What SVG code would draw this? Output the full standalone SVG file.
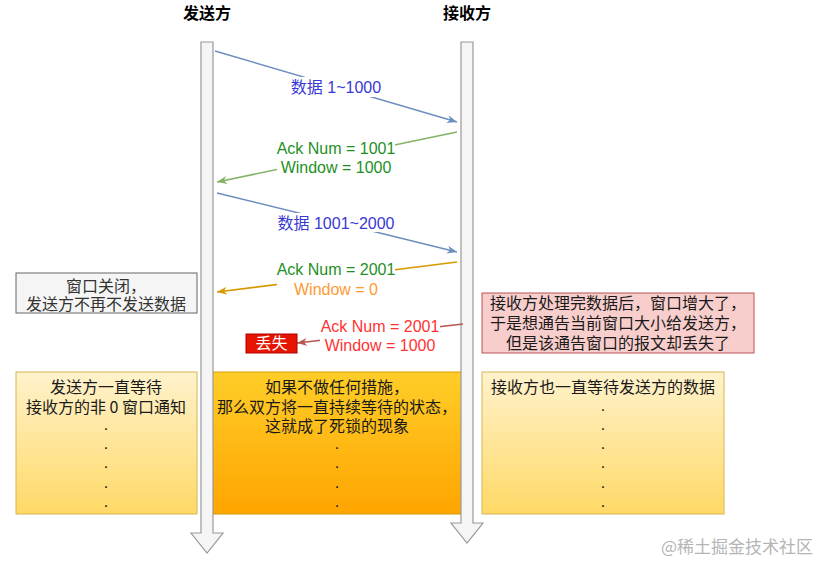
<svg xmlns="http://www.w3.org/2000/svg" width="820" height="562" viewBox="0 0 820 562">
<style>
.t{font-family:"Liberation Sans","Noto Sans CJK SC",sans-serif;font-size:16px;text-anchor:middle}
.c{font-family:"Noto Sans CJK SC","Liberation Sans",sans-serif;font-size:16px;text-anchor:middle;fill:#1a1a1a}
.d{font-family:"Liberation Sans",sans-serif;font-size:16px;text-anchor:middle;fill:#1a1a1a}
.h{font-weight:bold;fill:#000}
.life{fill:#f5f5f5;stroke:#999;stroke-width:1.2}
.ln{fill:none;stroke-width:1.5}
.bg{fill:#fff}
.blue{fill:#3838d4}
.green{fill:#1f8f1f}
</style>
<defs>
<linearGradient id="gy" x1="0" y1="0" x2="0" y2="1"><stop offset="0" stop-color="#fff2cc"/><stop offset="1" stop-color="#ffd966"/></linearGradient>
<linearGradient id="go" x1="0" y1="0" x2="0" y2="1"><stop offset="0" stop-color="#ffcd28"/><stop offset="1" stop-color="#ffa500"/></linearGradient>
<marker id="mb" markerUnits="userSpaceOnUse" markerWidth="12" markerHeight="10" refX="10" refY="4" orient="auto"><path d="M0,0 L10,4 L0,8 L3,4 z" fill="#6c8ebf"/></marker>
<marker id="mg" markerUnits="userSpaceOnUse" markerWidth="12" markerHeight="10" refX="10" refY="4" orient="auto"><path d="M0,0 L10,4 L0,8 L3,4 z" fill="#82b366"/></marker>
<marker id="mo" markerUnits="userSpaceOnUse" markerWidth="12" markerHeight="10" refX="10" refY="4" orient="auto"><path d="M0,0 L10,4 L0,8 L3,4 z" fill="#d79b00"/></marker>
<marker id="mr" markerUnits="userSpaceOnUse" markerWidth="12" markerHeight="10" refX="10" refY="4" orient="auto"><path d="M0,0 L10,4 L0,8 L3,4 z" fill="#b85450"/></marker>
</defs>
<rect width="820" height="562" fill="#fff"/>

<g id="box-sender-wait">
<rect x="16" y="372" width="181" height="142" fill="url(#gy)" stroke="#d6b656"/>
<text class="c" x="106" y="393">发送方一直等待<tspan x="106" dy="20">接收方的非 0 窗口通知</tspan></text>
<text class="d" x="106" y="430">.<tspan x="106" dy="19">.</tspan><tspan x="106" dy="19">.</tspan><tspan x="106" dy="20">.</tspan><tspan x="106" dy="19">.</tspan></text>
</g>
<g id="box-deadlock">
<rect x="212" y="372" width="251" height="142" fill="url(#go)" stroke="#d79b00"/>
<text class="c" x="337" y="393">如果不做任何措施，<tspan x="337" dy="20">那么双方将一直持续等待的状态，</tspan><tspan x="337" dy="19">这就成了死锁的现象</tspan></text>
<text class="d" x="337" y="449">.<tspan x="337" dy="19">.</tspan><tspan x="337" dy="20">.</tspan><tspan x="337" dy="19">.</tspan></text>
</g>
<g id="box-receiver-wait">
<rect x="482" y="372" width="242" height="142" fill="url(#gy)" stroke="#d6b656"/>
<text class="c" x="603" y="393">接收方也一直等待发送方的数据</text>
<text class="d" x="603" y="411">.<tspan x="603" dy="19">.</tspan><tspan x="603" dy="19">.</tspan><tspan x="603" dy="19">.</tspan><tspan x="603" dy="20">.</tspan><tspan x="603" dy="19">.</tspan></text>
</g>

<g id="sender">
<text class="c h" x="207" y="19">发送方</text>
<path class="life" d="M201,42 H213 V533 H223 L207,553 L191,533 H201 Z"/>
</g>
<g id="receiver">
<text class="c h" x="467" y="19">接收方</text>
<path class="life" d="M461,42 H473 V523 H483 L467,543 L451,523 H461 Z"/>
</g>

<g id="connectors">
<line class="ln" x1="215" y1="51" x2="457" y2="122" stroke="#6c8ebf" marker-end="url(#mb)"/>
<rect class="bg" x="289" y="77" width="94" height="20"/>
<text class="t blue" x="336" y="93">数据 1~1000</text>

<line class="ln" x1="457" y1="132" x2="217" y2="182" stroke="#82b366" marker-end="url(#mg)"/>
<rect class="bg" x="277" y="141" width="118" height="36"/>
<text class="t green" x="336" y="154">Ack Num = 1001<tspan x="336" dy="19">Window = 1000</tspan></text>

<line class="ln" x1="217" y1="193" x2="457" y2="252" stroke="#6c8ebf" marker-end="url(#mb)"/>
<rect class="bg" x="277" y="213" width="119" height="19"/>
<text class="t blue" x="336" y="229">数据 1001~2000</text>

<line class="ln" x1="457" y1="262" x2="217" y2="292" stroke="#d79b00" marker-end="url(#mo)"/>
<rect class="bg" x="277" y="261" width="118" height="36"/>
<text class="t green" x="336" y="275">Ack Num = 2001<tspan x="336" dy="20" style="fill:#ff9933">Window = 0</tspan></text>

<line class="ln" x1="463" y1="324" x2="297" y2="343" stroke="#b85450" marker-end="url(#mr)"/>
<rect class="bg" x="320" y="318" width="120" height="34"/>
<text class="t" x="380" y="332" fill="#ff3333">Ack Num = 2001<tspan x="380" dy="19">Window = 1000</tspan></text>
</g>

<g id="note-window-closed">
<rect x="16" y="273" width="181" height="40" fill="#f5f5f5" stroke="#666"/>
<text class="c" x="106" y="292" style="fill:#333">窗口关闭，<tspan x="106" dy="18">发送方不再不发送数据</tspan></text>
</g>
<g id="lost">
<rect x="246" y="334" width="51" height="19" fill="#e51400" stroke="#b20000"/>
<text class="c" x="271.5" y="349" style="fill:#fff">丢失</text>
</g>
<g id="note-lost">
<rect x="482" y="293" width="272" height="60" fill="#f8cecc" stroke="#b85450"/>
<text class="c" x="618" y="309">接收方处理完数据后，窗口增大了，<tspan x="618" dy="20">于是想通告当前窗口大小给发送方，</tspan><tspan x="618" dy="20">但是该通告窗口的报文却丢失了</tspan></text>
</g>
<text class="c" x="737" y="553" style="fill:#b5b5b5;font-size:17px">@稀土掘金技术社区</text>
</svg>
